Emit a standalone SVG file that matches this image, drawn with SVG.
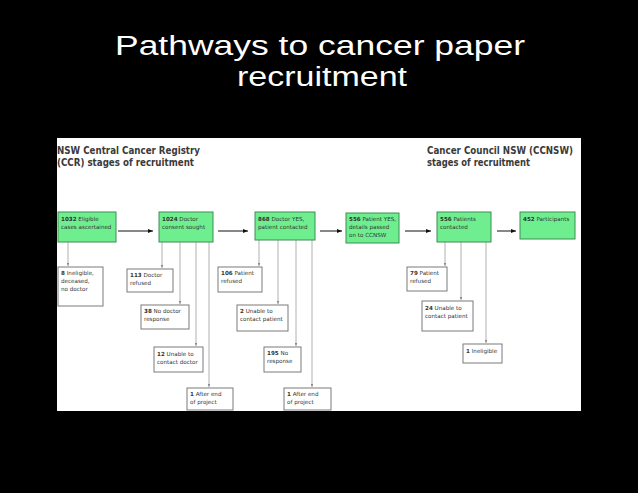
<svg xmlns="http://www.w3.org/2000/svg" width="638" height="493" viewBox="0 0 638 493">
<style>
.title{font-family:"Liberation Sans",Arial,sans-serif;font-size:27.5px;fill:#ffffff;text-anchor:middle}
.head{font-family:"DejaVu Sans",Verdana,sans-serif;font-size:9.6px;fill:#3a3a3a;font-weight:bold}
.g{fill:#6fee8f;stroke:#3f8c55;stroke-width:1}
.w{fill:#ffffff;stroke:#7a7a7a;stroke-width:1}
.t{font-family:"DejaVu Sans",Verdana,sans-serif;font-size:5.6px;fill:#333333}
.t tspan.b{font-weight:bold}
.h{stroke:#111111;stroke-width:1;fill:none;marker-end:url(#ah)}
.v{stroke:#b0b0b0;stroke-width:1;fill:none;marker-end:url(#av)}
</style>
<defs>
<marker id="ah" viewBox="0 0 10 10" refX="10" refY="5" markerWidth="5" markerHeight="5" orient="auto" markerUnits="userSpaceOnUse"><path d="M0,1 L10,5 L0,9 z" fill="#111111"/></marker>
<marker id="av" viewBox="0 0 10 10" refX="10" refY="5" markerWidth="3" markerHeight="3" orient="auto" markerUnits="userSpaceOnUse"><path d="M0,1 L10,5 L0,9 z" fill="#888888"/></marker>
</defs>
<rect x="0" y="0" width="638" height="493" fill="#000000"/>
<text class="title" x="320" y="55" textLength="410" lengthAdjust="spacingAndGlyphs">Pathways to cancer paper</text>
<text class="title" x="322" y="86" textLength="170" lengthAdjust="spacingAndGlyphs">recruitment</text>
<rect x="57" y="138" width="524" height="273" fill="#ffffff"/>
<text class="head" x="57" y="154" textLength="143" lengthAdjust="spacingAndGlyphs">NSW Central Cancer Registry</text>
<text class="head" x="57" y="166" textLength="137" lengthAdjust="spacingAndGlyphs">(CCR) stages of recruitment</text>
<text class="head" x="427" y="154" textLength="146" lengthAdjust="spacingAndGlyphs">Cancer Council NSW (CCNSW)</text>
<text class="head" x="427" y="166" textLength="103" lengthAdjust="spacingAndGlyphs">stages of recruitment</text>
<g id="connectors">
<line class="h" x1="118" y1="231" x2="153" y2="231"/>
<line class="h" x1="218" y1="231" x2="248" y2="231"/>
<line class="h" x1="320" y1="231" x2="342" y2="231"/>
<line class="h" x1="405" y1="231" x2="431" y2="231"/>
<line class="h" x1="497" y1="231" x2="516" y2="231"/>
<line class="v" x1="68" y1="242" x2="68" y2="266"/>
<line class="v" x1="162" y1="242" x2="162" y2="268"/>
<line class="v" x1="180" y1="242" x2="180" y2="304"/>
<line class="v" x1="196" y1="242" x2="196" y2="346"/>
<line class="v" x1="209" y1="242" x2="209" y2="387"/>
<line class="v" x1="259" y1="240" x2="259" y2="266"/>
<line class="v" x1="278" y1="240" x2="278" y2="304"/>
<line class="v" x1="296" y1="240" x2="296" y2="346"/>
<line class="v" x1="312" y1="240" x2="312" y2="387"/>
<line class="v" x1="445" y1="242" x2="445" y2="266"/>
<line class="v" x1="461" y1="242" x2="461" y2="300"/>
<line class="v" x1="486" y1="242" x2="486" y2="343"/>
</g>
<g id="n1"><rect class="g" x="58" y="212" width="58" height="30"/><text class="t" x="61" y="221"><tspan class="b">1032</tspan> Eligible</text><text class="t" x="61" y="229">cases ascertained</text></g>
<g id="n2"><rect class="g" x="159" y="212" width="54" height="30"/><text class="t" x="162" y="221"><tspan class="b">1024</tspan> Doctor</text><text class="t" x="162" y="229">consent sought</text></g>
<g id="n3"><rect class="g" x="255" y="212" width="60" height="28"/><text class="t" x="258" y="221"><tspan class="b">868</tspan> Doctor YES,</text><text class="t" x="258" y="229">patient contacted</text></g>
<g id="n4"><rect class="g" x="346" y="213" width="53" height="30"/><text class="t" x="349" y="221"><tspan class="b">556</tspan> Patient YES,</text><text class="t" x="349" y="229">details passed</text><text class="t" x="349" y="237">on to CCNSW</text></g>
<g id="n5"><rect class="g" x="437" y="212" width="54" height="30"/><text class="t" x="440" y="221"><tspan class="b">556</tspan> Patients</text><text class="t" x="440" y="229">contacted</text></g>
<g id="n6"><rect class="g" x="520" y="212" width="55" height="27"/><text class="t" x="523" y="221"><tspan class="b">452</tspan> Participants</text></g>
<g id="w1"><rect class="w" x="58" y="267" width="45" height="39"/><text class="t" x="61" y="275"><tspan class="b">8</tspan> Ineligible,</text><text class="t" x="61" y="283">deceased,</text><text class="t" x="61" y="291">no doctor</text></g>
<g id="w2"><rect class="w" x="127" y="269" width="46" height="23"/><text class="t" x="130" y="277"><tspan class="b">113</tspan> Doctor</text><text class="t" x="130" y="285">refused</text></g>
<g id="w3"><rect class="w" x="141" y="305" width="48" height="24"/><text class="t" x="144" y="313"><tspan class="b">38</tspan> No doctor</text><text class="t" x="144" y="321">response</text></g>
<g id="w4"><rect class="w" x="154" y="347" width="49" height="25"/><text class="t" x="157" y="356"><tspan class="b">12</tspan> Unable to</text><text class="t" x="157" y="364">contact doctor</text></g>
<g id="w5"><rect class="w" x="187" y="388" width="46" height="22"/><text class="t" x="190" y="396"><tspan class="b">1</tspan> After end</text><text class="t" x="190" y="404">of project</text></g>
<g id="w6"><rect class="w" x="218" y="267" width="44" height="25"/><text class="t" x="221" y="275"><tspan class="b">106</tspan> Patient</text><text class="t" x="221" y="283">refused</text></g>
<g id="w7"><rect class="w" x="237" y="305" width="51" height="26"/><text class="t" x="240" y="313"><tspan class="b">2</tspan> Unable to</text><text class="t" x="240" y="321">contact patient</text></g>
<g id="w8"><rect class="w" x="264" y="347" width="37" height="25"/><text class="t" x="267" y="355"><tspan class="b">195</tspan> No</text><text class="t" x="267" y="363">response</text></g>
<g id="w9"><rect class="w" x="284" y="388" width="47" height="22"/><text class="t" x="287" y="396"><tspan class="b">1</tspan> After end</text><text class="t" x="287" y="404">of  project</text></g>
<g id="w10"><rect class="w" x="407" y="267" width="40" height="24"/><text class="t" x="410" y="275"><tspan class="b">79</tspan> Patient</text><text class="t" x="410" y="283">refused</text></g>
<g id="w11"><rect class="w" x="422" y="301" width="51" height="30"/><text class="t" x="425" y="310"><tspan class="b">24</tspan> Unable to</text><text class="t" x="425" y="318">contact patient</text></g>
<g id="w12"><rect class="w" x="463" y="344" width="39" height="19"/><text class="t" x="466" y="353"><tspan class="b">1</tspan> Ineligible</text></g>
</svg>
